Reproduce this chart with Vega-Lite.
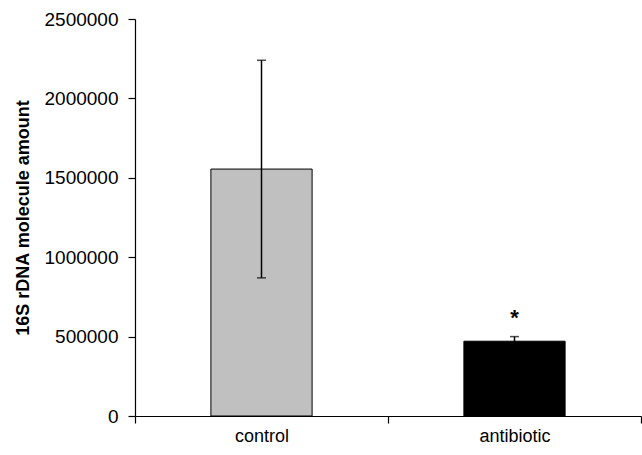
{
  "$schema": "https://vega.github.io/schema/vega-lite/v6.json",
  "autosize": "none",
  "width": 506,
  "height": 397,
  "padding": {"left": 135, "top": 19, "right": 1, "bottom": 39},
  "background": "white",
  "config": {
    "view": {"stroke": null},
    "font": "Liberation Sans",
    "axis": {"domainColor": "black", "tickColor": "black", "labelColor": "black", "titleColor": "black", "grid": false, "labelFont": "Liberation Sans", "titleFont": "Liberation Sans"}
  },
  "data": {
    "values": [
      {"group": "control", "mean": 1555000, "lo": 870000, "hi": 2240000, "sig": ""},
      {"group": "antibiotic", "mean": 471000, "lo": 442000, "hi": 500000, "sig": "*"}
    ]
  },
  "encoding": {
    "x": {
      "field": "group", "type": "nominal", "sort": ["control", "antibiotic"],
      "scale": {"paddingInner": 0, "paddingOuter": 0},
      "axis": {"title": null, "labelAngle": 0, "tickBand": "extent", "tickSize": 7, "labelFontSize": 18, "labelPadding": 4, "domainWidth": 1.2, "tickWidth": 1.2}
    }
  },
  "layer": [
    {
      "mark": {"type": "bar", "width": {"band": 0.4}, "stroke": "black", "strokeWidth": 1},
      "encoding": {
        "y": {
          "field": "mean", "type": "quantitative",
          "scale": {"domain": [0, 2500000], "nice": false},
          "axis": {"values": [0, 500000, 1000000, 1500000, 2000000, 2500000], "format": "d", "title": "16S rDNA molecule amount", "titleFontSize": 18, "titleFontWeight": "bold", "titlePadding": 12, "labelFontSize": 19, "labelPadding": 10, "tickSize": 7, "domainWidth": 1.2, "tickWidth": 1.2}
        },
        "fill": {"field": "group", "type": "nominal", "scale": {"domain": ["control", "antibiotic"], "range": ["#c0c0c0", "#000000"]}, "legend": null}
      }
    },
    {
      "mark": {"type": "rule", "color": "black", "strokeWidth": 1.5},
      "encoding": {"y": {"field": "lo", "type": "quantitative"}, "y2": {"field": "hi"}}
    },
    {
      "mark": {"type": "tick", "color": "black", "orient": "horizontal", "size": 9, "thickness": 1.5},
      "encoding": {"y": {"field": "hi", "type": "quantitative"}}
    },
    {
      "mark": {"type": "tick", "color": "black", "orient": "horizontal", "size": 9, "thickness": 1.5},
      "encoding": {"y": {"field": "lo", "type": "quantitative"}}
    },
    {
      "mark": {"type": "text", "fontSize": 22, "fontWeight": "bold", "baseline": "alphabetic", "dy": -12, "color": "black"},
      "encoding": {"y": {"field": "hi", "type": "quantitative"}, "text": {"field": "sig"}}
    }
  ]
}
